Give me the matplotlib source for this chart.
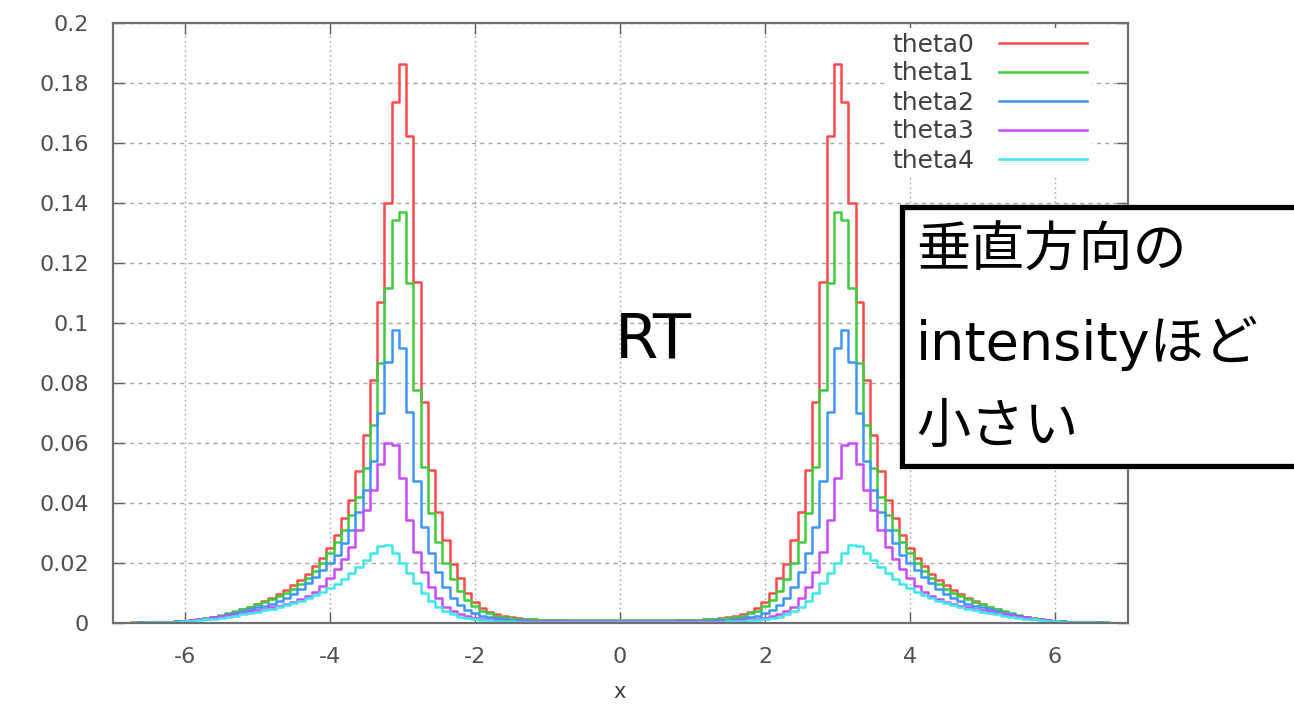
import matplotlib
matplotlib.use("Agg")
import matplotlib.pyplot as plt
import numpy as np
from matplotlib.patches import Rectangle

plt.rcParams["font.family"] = ["DejaVu Sans"]
JP_FONT = ["DejaVu Sans", "Noto Sans CJK JP"]

# histogram bin centres, 0.1 wide, from -7.0 to 7.0
x_centers = np.round(np.arange(-70, 71) / 10.0, 1)

theta0 = [
    0.0001, 0.0002, 0.0002, 0.0002, 0.0003, 0.0003, 0.0004, 0.0005, 0.0006, 0.0007,
    0.0008, 0.0010, 0.0013, 0.0017, 0.0021, 0.0026, 0.0032, 0.0039, 0.0047, 0.0056,
    0.0065, 0.0074, 0.0085, 0.0097, 0.0112, 0.0128, 0.0145, 0.0166, 0.0190, 0.0218,
    0.0252, 0.0294, 0.0350, 0.0411, 0.0506, 0.0628, 0.0811, 0.1072, 0.1400, 0.1737,
    0.1864, 0.1624, 0.1137, 0.0739, 0.0511, 0.0372, 0.0278, 0.0198, 0.0150, 0.0100,
    0.0070, 0.0050, 0.0038, 0.0030, 0.0024, 0.0020, 0.0017, 0.0015, 0.0013, 0.0012,
    0.0011, 0.0011, 0.0010, 0.0009, 0.0009, 0.0008, 0.0008, 0.0008, 0.0008, 0.0008,
    0.0008,
    0.0008, 0.0008, 0.0008, 0.0008, 0.0008, 0.0009, 0.0009, 0.0010, 0.0011, 0.0011,
    0.0012, 0.0013, 0.0015, 0.0017, 0.0020, 0.0024, 0.0030, 0.0038, 0.0050, 0.0070,
    0.0100, 0.0150, 0.0198, 0.0278, 0.0372, 0.0511, 0.0739, 0.1137, 0.1624, 0.1864,
    0.1737, 0.1400, 0.1072, 0.0811, 0.0628, 0.0506, 0.0411, 0.0350, 0.0294, 0.0252,
    0.0218, 0.0190, 0.0166, 0.0145, 0.0128, 0.0112, 0.0097, 0.0085, 0.0074, 0.0065,
    0.0056, 0.0047, 0.0039, 0.0032, 0.0026, 0.0021, 0.0017, 0.0013, 0.0010, 0.0008,
    0.0007, 0.0006, 0.0005, 0.0004, 0.0003, 0.0003, 0.0002, 0.0002, 0.0002, 0.0001,
]

theta1 = [
    0.0001, 0.0002, 0.0002, 0.0003, 0.0003, 0.0004, 0.0004, 0.0005, 0.0006, 0.0007,
    0.0009, 0.0011, 0.0014, 0.0018, 0.0022, 0.0027, 0.0033, 0.0040, 0.0048, 0.0056,
    0.0064, 0.0072, 0.0081, 0.0091, 0.0102, 0.0116, 0.0132, 0.0152, 0.0174, 0.0202,
    0.0235, 0.0272, 0.0311, 0.0361, 0.0422, 0.0517, 0.0661, 0.0867, 0.1119, 0.1344,
    0.1372, 0.1135, 0.0778, 0.0522, 0.0367, 0.0272, 0.0200, 0.0148, 0.0108, 0.0078,
    0.0057, 0.0042, 0.0033, 0.0026, 0.0021, 0.0018, 0.0016, 0.0014, 0.0013, 0.0012,
    0.0011, 0.0011, 0.0010, 0.0010, 0.0010, 0.0010, 0.0010, 0.0010, 0.0010, 0.0010,
    0.0010,
    0.0010, 0.0010, 0.0010, 0.0010, 0.0010, 0.0010, 0.0010, 0.0010, 0.0011, 0.0011,
    0.0012, 0.0013, 0.0014, 0.0016, 0.0018, 0.0021, 0.0026, 0.0033, 0.0042, 0.0057,
    0.0078, 0.0108, 0.0148, 0.0200, 0.0272, 0.0367, 0.0522, 0.0778, 0.1135, 0.1372,
    0.1344, 0.1119, 0.0867, 0.0661, 0.0517, 0.0422, 0.0361, 0.0311, 0.0272, 0.0235,
    0.0202, 0.0174, 0.0152, 0.0132, 0.0116, 0.0102, 0.0091, 0.0081, 0.0072, 0.0064,
    0.0056, 0.0048, 0.0040, 0.0033, 0.0027, 0.0022, 0.0018, 0.0014, 0.0011, 0.0009,
    0.0007, 0.0006, 0.0005, 0.0004, 0.0004, 0.0003, 0.0003, 0.0002, 0.0002, 0.0001,
]

theta2 = [
    0.0001, 0.0001, 0.0002, 0.0002, 0.0003, 0.0003, 0.0004, 0.0005, 0.0006, 0.0007,
    0.0008, 0.0010, 0.0013, 0.0016, 0.0020, 0.0025, 0.0030, 0.0036, 0.0041, 0.0047,
    0.0053, 0.0059, 0.0066, 0.0074, 0.0084, 0.0098, 0.0115, 0.0135, 0.0156, 0.0178,
    0.0200, 0.0228, 0.0267, 0.0311, 0.0370, 0.0444, 0.0540, 0.0700, 0.0872, 0.0976,
    0.0917, 0.0705, 0.0475, 0.0322, 0.0233, 0.0170, 0.0122, 0.0086, 0.0062, 0.0045,
    0.0034, 0.0026, 0.0021, 0.0017, 0.0014, 0.0012, 0.0011, 0.0010, 0.0009, 0.0008,
    0.0008, 0.0008, 0.0008, 0.0008, 0.0008, 0.0008, 0.0008, 0.0008, 0.0008, 0.0008,
    0.0008,
    0.0008, 0.0008, 0.0008, 0.0008, 0.0008, 0.0008, 0.0008, 0.0008, 0.0008, 0.0008,
    0.0008, 0.0009, 0.0010, 0.0011, 0.0012, 0.0014, 0.0017, 0.0021, 0.0026, 0.0034,
    0.0045, 0.0062, 0.0086, 0.0122, 0.0170, 0.0233, 0.0322, 0.0475, 0.0705, 0.0917,
    0.0976, 0.0872, 0.0700, 0.0540, 0.0444, 0.0370, 0.0311, 0.0267, 0.0228, 0.0200,
    0.0178, 0.0156, 0.0135, 0.0115, 0.0098, 0.0084, 0.0074, 0.0066, 0.0059, 0.0053,
    0.0047, 0.0041, 0.0036, 0.0030, 0.0025, 0.0020, 0.0016, 0.0013, 0.0010, 0.0008,
    0.0007, 0.0006, 0.0005, 0.0004, 0.0003, 0.0003, 0.0002, 0.0002, 0.0001, 0.0001,
]

theta3 = [
    0.0001, 0.0001, 0.0001, 0.0002, 0.0002, 0.0003, 0.0003, 0.0004, 0.0005, 0.0006,
    0.0008, 0.0010, 0.0013, 0.0016, 0.0020, 0.0024, 0.0028, 0.0032, 0.0036, 0.0040,
    0.0044, 0.0048, 0.0053, 0.0058, 0.0064, 0.0071, 0.0080, 0.0092, 0.0105, 0.0125,
    0.0150, 0.0180, 0.0213, 0.0256, 0.0311, 0.0378, 0.0444, 0.0530, 0.0600, 0.0594,
    0.0483, 0.0344, 0.0239, 0.0172, 0.0122, 0.0083, 0.0055, 0.0040, 0.0030, 0.0023,
    0.0018, 0.0015, 0.0013, 0.0011, 0.0010, 0.0009, 0.0008, 0.0007, 0.0007, 0.0007,
    0.0007, 0.0007, 0.0007, 0.0007, 0.0007, 0.0007, 0.0007, 0.0007, 0.0007, 0.0007,
    0.0007,
    0.0007, 0.0007, 0.0007, 0.0007, 0.0007, 0.0007, 0.0007, 0.0007, 0.0007, 0.0007,
    0.0007, 0.0007, 0.0007, 0.0008, 0.0009, 0.0010, 0.0011, 0.0013, 0.0015, 0.0018,
    0.0023, 0.0030, 0.0040, 0.0055, 0.0083, 0.0122, 0.0172, 0.0239, 0.0344, 0.0483,
    0.0594, 0.0600, 0.0530, 0.0444, 0.0378, 0.0311, 0.0256, 0.0213, 0.0180, 0.0150,
    0.0125, 0.0105, 0.0092, 0.0080, 0.0071, 0.0064, 0.0058, 0.0053, 0.0048, 0.0044,
    0.0040, 0.0036, 0.0032, 0.0028, 0.0024, 0.0020, 0.0016, 0.0013, 0.0010, 0.0008,
    0.0006, 0.0005, 0.0004, 0.0003, 0.0003, 0.0002, 0.0002, 0.0001, 0.0001, 0.0001,
]

theta4 = [
    0.0001, 0.0001, 0.0001, 0.0002, 0.0002, 0.0003, 0.0003, 0.0004, 0.0005, 0.0006,
    0.0007, 0.0009, 0.0011, 0.0013, 0.0016, 0.0019, 0.0022, 0.0026, 0.0030, 0.0034,
    0.0038, 0.0043, 0.0048, 0.0054, 0.0060, 0.0067, 0.0075, 0.0084, 0.0094, 0.0106,
    0.0118, 0.0132, 0.0148, 0.0167, 0.0189, 0.0212, 0.0236, 0.0258, 0.0262, 0.0235,
    0.0200, 0.0167, 0.0133, 0.0100, 0.0074, 0.0056, 0.0040, 0.0030, 0.0022, 0.0017,
    0.0014, 0.0012, 0.0010, 0.0009, 0.0008, 0.0007, 0.0006, 0.0006, 0.0006, 0.0006,
    0.0006, 0.0006, 0.0006, 0.0006, 0.0006, 0.0006, 0.0006, 0.0006, 0.0006, 0.0006,
    0.0006,
    0.0006, 0.0006, 0.0006, 0.0006, 0.0006, 0.0006, 0.0006, 0.0006, 0.0006, 0.0006,
    0.0006, 0.0006, 0.0006, 0.0006, 0.0007, 0.0008, 0.0009, 0.0010, 0.0012, 0.0014,
    0.0017, 0.0022, 0.0030, 0.0040, 0.0056, 0.0074, 0.0100, 0.0133, 0.0167, 0.0200,
    0.0235, 0.0262, 0.0258, 0.0236, 0.0212, 0.0189, 0.0167, 0.0148, 0.0132, 0.0118,
    0.0106, 0.0094, 0.0084, 0.0075, 0.0067, 0.0060, 0.0054, 0.0048, 0.0043, 0.0038,
    0.0034, 0.0030, 0.0026, 0.0022, 0.0019, 0.0016, 0.0013, 0.0011, 0.0009, 0.0007,
    0.0006, 0.0005, 0.0004, 0.0003, 0.0003, 0.0002, 0.0002, 0.0001, 0.0001, 0.0001,
]

series = [theta0, theta1, theta2, theta3, theta4]
labels = ["theta0", "theta1", "theta2", "theta3", "theta4"]
colors = ["#ff4a4a", "#3fcc3f", "#3c96ff", "#c84cff", "#3ee8e8"]

x_ticks = [-6, -4, -2, 0, 2, 4, 6]
y_ticks = [0, 0.02, 0.04, 0.06, 0.08, 0.1, 0.12, 0.14, 0.16, 0.18, 0.2]
y_ticklabels = ["0", "0.02", "0.04", "0.06", "0.08", "0.1",
                "0.12", "0.14", "0.16", "0.18", "0.2"]

W, H = 1294, 704
fig = plt.figure(figsize=(W / 100, H / 100), dpi=100)
ax = fig.add_axes([112.5 / W, 1 - 623.3 / H, 1015 / W, 600 / H])

for vals, lab, col in zip(series, labels, colors):
    ax.step(x_centers, vals, where="mid", color=col, lw=1.8, label=lab)

ax.set_xlim(-7, 7)
ax.set_ylim(0, 0.2)
ax.set_xticks(x_ticks)
ax.set_xticklabels([str(t) for t in x_ticks])
ax.set_yticks(y_ticks)
ax.set_yticklabels(y_ticklabels)
ax.set_xlabel("x", fontsize=15, color="#404040", labelpad=11)

# gnuplot-like grid: dotted verticals, dashed horizontals
ax.xaxis.grid(True, color="#a8a8a8", lw=1.0, linestyle=(0, (1.2, 2.2)))
ax.yaxis.grid(True, color="#a8a8a8", lw=1.0, linestyle=(0, (3, 3)))
ax.set_axisbelow(True)
ax.tick_params(direction="in", length=8, width=1.0, color="#606060",
               top=True, right=True, labelsize=16, labelcolor="#505050")
ax.tick_params(axis="y", pad=17)
ax.tick_params(axis="x", pad=17)
for sp in ax.spines.values():
    sp.set_color("#707070")
    sp.set_linewidth(1.6)

leg = ax.legend(loc="upper right", bbox_to_anchor=(0.965, 0.993),
                markerfirst=False, frameon=True, fancybox=False,
                edgecolor="none", facecolor="white", framealpha=1.0,
                fontsize=18, handlelength=3.5, handletextpad=1.0,
                labelspacing=0.2, borderpad=0.2, borderaxespad=0)
for t in leg.get_texts():
    t.set_color("#404040")

fig.text(653 / W, 1 - 340 / H, "RT", fontsize=45, family=JP_FONT,
         ha="center", va="center", color="black")

# annotation box on the right edge
box = Rectangle((902 / W, 1 - 466 / H), 420 / W, 259 / H,
                transform=fig.transFigure, facecolor="white",
                edgecolor="black", lw=3.8, zorder=5, clip_on=False)
fig.patches.append(box)
for txt, yy in [("垂直方向の", 252), ("intensityほど", 343), ("小さい", 428)]:
    fig.text(916 / W, 1 - yy / H, txt, fontsize=39, family=JP_FONT,
             ha="left", va="center", color="black", zorder=6)

fig.savefig("out.png", dpi=100)
